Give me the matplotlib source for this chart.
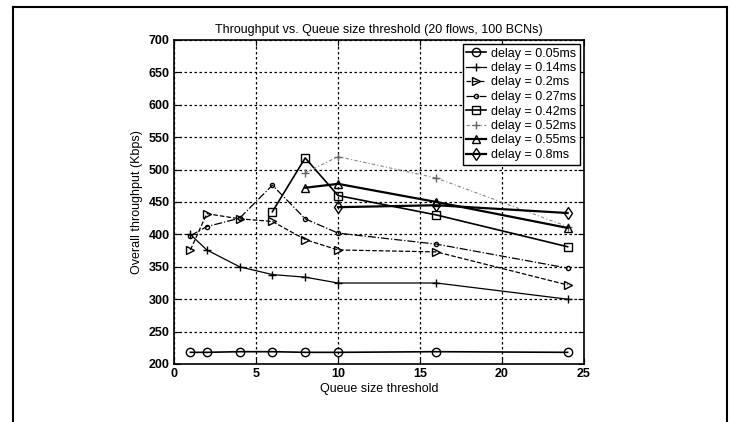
import matplotlib
matplotlib.use("Agg")
import matplotlib.pyplot as plt
from matplotlib.lines import Line2D

plt.rcParams['font.family'] = ['Liberation Sans', 'DejaVu Sans']

x_all = [1, 2, 4, 6, 8, 10, 16, 24]
d005 = [218, 218, 219, 219, 218, 218, 219, 218]
d014 = [400, 376, 350, 338, 334, 325, 325, 300]
d020 = [376, 432, 424, 420, 392, 376, 373, 322]
d027 = [398, 412, 425, 476, 424, 402, 385, 348]
x_042 = [6, 8, 10, 16, 24]
d042 = [435, 518, 460, 430, 381]
x_052 = [8, 10, 16, 24]
d052 = [495, 520, 487, 412]
x_055 = [8, 10, 16, 24]
d055 = [472, 478, 450, 410]
x_080 = [10, 16, 24]
d080 = [442, 445, 433]

labels = ['delay = 0.05ms', 'delay = 0.14ms', 'delay = 0.2ms', 'delay = 0.27ms',
          'delay = 0.42ms', 'delay = 0.52ms', 'delay = 0.55ms', 'delay = 0.8ms']

fig = plt.figure(figsize=(7.31, 4.22), dpi=100)
ax = fig.add_axes([174/731, 1 - 364/422, (584 - 174)/731, (364 - 40)/422])

k = dict(color='black', markerfacecolor='none', markeredgecolor='black', markersize=6)
ax.plot(x_all, d005, '-o', lw=1.2, label=labels[0], **k)
ax.plot(x_all, d014, '-+', lw=0.9, label=labels[1], **k)
ax.plot(x_all, d020, '--', marker='>', lw=0.9, label=labels[2], **k)
ax.plot(x_all, d027, '-.', marker='.', lw=0.9, label=labels[3], **k)
ax.plot(x_042, d042, '-s', lw=1.2, label=labels[4], **k)
ax.plot(x_052, d052, linestyle=(0, (3, 2, 1, 2)), marker='+', lw=0.8,
        color='#888888', markeredgecolor='#666666', markersize=6, label=labels[5])
ax.plot(x_055, d055, '-^', lw=1.6, label=labels[6], **k)
ax.plot(x_080, d080, '-d', lw=1.6, label=labels[7], **k)

ax.set_xlim(0, 25)
ax.set_ylim(200, 700)
ax.set_xticks(range(0, 26, 5))
ax.set_yticks(range(200, 701, 50))
ax.grid(True, color='black', linestyle=(0, (2, 2)), linewidth=0.9)
ax.tick_params(direction='in', labelsize=9, length=4, top=True, right=True, pad=3)
for t in ax.get_xticklabels() + ax.get_yticklabels():
    t.set_fontweight('bold')
for s in ax.spines.values():
    s.set_linewidth(1.2)

ax.set_title('Throughput vs. Queue size threshold (20 flows, 100 BCNs)', fontsize=9, pad=5)
ax.set_xlabel('Queue size threshold', fontsize=9, labelpad=2)
ax.set_ylabel('Overall throughput (Kbps)', fontsize=9, labelpad=4)

leg = ax.legend(loc='upper right', fontsize=9, frameon=True, fancybox=False,
                borderpad=0.3, labelspacing=0.2, handlelength=1.6,
                borderaxespad=0.3, handletextpad=0.4)
leg.get_frame().set_edgecolor('black')
leg.get_frame().set_linewidth(1.0)
leg.get_frame().set_alpha(1)

# outer frame of the scanned page
fig.add_artist(Line2D([13/731, 13/731], [0, 1 - 7/422], transform=fig.transFigure, color='black', lw=1.5))
fig.add_artist(Line2D([13/731, 727/731], [1 - 7/422, 1 - 7/422], transform=fig.transFigure, color='black', lw=1.5))
fig.add_artist(Line2D([727/731, 727/731], [0, 1 - 7/422], transform=fig.transFigure, color='black', lw=1.5))

fig.savefig('out.png', dpi=100)
